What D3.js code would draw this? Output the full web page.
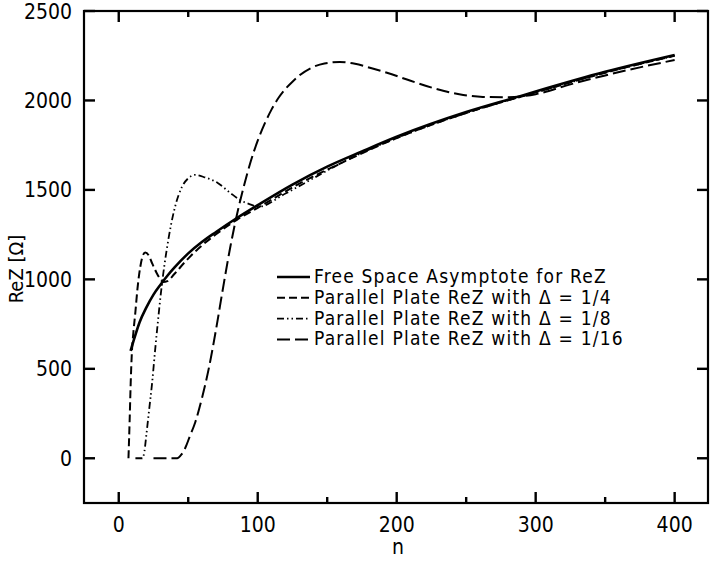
<!DOCTYPE html>
<html>
<head>
<meta charset="utf-8">
<script src="https://cdn.jsdelivr.net/npm/d3@7"></script>
<style>
  body { margin: 0; background: #fff; }
  svg text { font-family: "DejaVu Sans Condensed", "Liberation Sans Narrow", "Liberation Sans", sans-serif; fill: #000; }
</style>
</head>
<body>
<svg id="chart" width="710" height="565"></svg>
<script>
// values: [n, ReZ]
const freeSpace = [
  [8.5, 600], [10, 640], [12, 690], [15, 760], [20, 845], [25, 915], [30, 970],
  [35, 1020], [40, 1065], [50, 1145], [60, 1210], [70, 1265], [85, 1343],
  [100, 1415], [125, 1530], [150, 1630], [175, 1715], [200, 1797], [250, 1935],
  [287, 2020], [300, 2050], [350, 2160], [400, 2254]
];
const plateQuarter = [
  [7, 0], [7.8, 200], [8.6, 420], [9.5, 600], [10.5, 700], [12, 820], [13.5, 950],
  [15.5, 1070], [17, 1125], [19, 1150], [21.5, 1135], [24, 1090], [27, 1040],
  [30, 1000], [32, 985], [35, 990], [40, 1030], [48, 1100], [57, 1170],
  [70, 1252], [85, 1333], [100, 1400], [130, 1535], [160, 1650], [200, 1790],
  [250, 1930], [300, 2045], [350, 2155], [400, 2250]
];
const plateEighth = [
  [12, 0], [17, 0], [18.5, 40], [20, 140], [22, 280], [24, 420], [26, 590],
  [28, 750], [30, 900], [32, 1030], [34.5, 1165], [37.5, 1300], [40.5, 1405],
  [45.5, 1517], [50, 1565], [55, 1584], [62, 1570], [71, 1540], [80, 1485],
  [87, 1445], [95, 1418], [100, 1405], [120, 1480], [140, 1565], [160, 1650],
  [180, 1725], [200, 1790], [250, 1930], [300, 2045], [350, 2155], [400, 2250]
];
const plateSixteenth = [
  [25, 0], [42, 0], [45, 20], [48, 60], [51, 120], [55, 200], [60, 340],
  [65, 510], [70, 720], [75, 950], [80, 1170], [85, 1360], [90, 1520],
  [95, 1660], [100, 1775], [105, 1870], [110, 1950], [115, 2015], [120, 2065],
  [125, 2105], [130, 2140], [138, 2180], [148, 2207], [159, 2215], [170, 2205],
  [182, 2180], [193, 2155], [210, 2110], [226, 2070], [245, 2035], [262, 2020],
  [280, 2018], [300, 2035], [325, 2090], [350, 2140], [375, 2185], [400, 2226]
];
const legendLabels = [
  "Free Space Asymptote for ReZ",
  "Parallel Plate ReZ with \u0394 = 1/4",
  "Parallel Plate ReZ with \u0394 = 1/8",
  "Parallel Plate ReZ with \u0394 = 1/16"
];
const xTicks = [0, 100, 200, 300, 400];
const xMinorTicks = [50, 150, 250, 350];
const yTicks = [0, 500, 1000, 1500, 2000, 2500];

const series = [
  { data: freeSpace, dash: null, width: 2.6 },
  { data: plateQuarter, dash: "8,4", width: 2 },
  { data: plateEighth, dash: "7,3,1.5,3,1.5,3", width: 1.8 },
  { data: plateSixteenth, dash: "13,5", width: 2 }
];

const margin = { top: 11, right: 2, bottom: 62, left: 84 };
const width = 710, height = 565;
const svg = d3.select("#chart");

const x = d3.scaleLinear().domain([-25, 424]).range([margin.left, width - margin.right]);
const y = d3.scaleLinear().domain([-250, 2500]).range([height - margin.bottom, margin.top]);
const plotLeft = x.range()[0], plotRight = x.range()[1];
const plotBottom = y.range()[0], plotTop = y.range()[1];

const line = d3.line()
  .x((d) => x(d[0]))
  .y((d) => y(d[1]))
  .curve(d3.curveMonotoneX);

series.forEach((s) => {
  svg.append("path")
    .datum(s.data)
    .attr("fill", "none")
    .attr("stroke", "#000")
    .attr("stroke-width", s.width)
    .attr("stroke-dasharray", s.dash)
    .attr("d", line);
});

svg.append("rect")
  .attr("x", plotLeft)
  .attr("y", plotTop)
  .attr("width", plotRight - plotLeft)
  .attr("height", plotBottom - plotTop)
  .attr("fill", "none")
  .attr("stroke", "#000")
  .attr("stroke-width", 2.2);

// ticks point inward on all four sides, drawn as filled bars
const tickLayer = svg.append("g").attr("fill", "#000");
function vTick(px, py, len) {
  tickLayer.append("rect").attr("x", px - 1.2).attr("y", py).attr("width", 2.4).attr("height", len);
}
function hTick(px, py, len) {
  tickLayer.append("rect").attr("x", px).attr("y", py - 1.2).attr("width", len).attr("height", 2.4);
}
xTicks.forEach((d) => {
  vTick(x(d), plotBottom - 11, 11);
  vTick(x(d), plotTop, 11);
});
xMinorTicks.forEach((d) => {
  vTick(x(d), plotBottom - 6, 6);
  vTick(x(d), plotTop, 6);
});
yTicks.forEach((d) => {
  hTick(plotLeft, y(d), 11);
  hTick(plotRight - 11, y(d), 11);
});

svg.append("g").selectAll("text").data(xTicks).join("text")
  .attr("x", (d) => x(d))
  .attr("y", 532)
  .attr("text-anchor", "middle")
  .attr("font-size", 21)
  .text((d) => d);

svg.append("g").selectAll("text").data(yTicks).join("text")
  .attr("x", 72)
  .attr("y", (d) => y(d) + 7.5)
  .attr("text-anchor", "end")
  .attr("font-size", 21)
  .text((d) => d);

svg.append("text")
  .attr("x", (plotLeft + plotRight) / 2 + 2)
  .attr("y", 554)
  .attr("text-anchor", "middle")
  .attr("font-size", 21)
  .text("n");

svg.append("text")
  .attr("transform", `translate(23,${(plotBottom + plotTop) / 2 + 12}) rotate(-90)`)
  .attr("text-anchor", "middle")
  .attr("font-size", 20)
  .text("ReZ [\u03a9]");

// legend
const legend = svg.append("g").attr("transform", "translate(277,277)");
legendLabels.forEach((label, i) => {
  const row = legend.append("g").attr("transform", `translate(0,${i * 20.8})`);
  row.append("line")
    .attr("x1", 0).attr("x2", 33).attr("y1", 0).attr("y2", 0)
    .attr("stroke", "#000")
    .attr("stroke-width", series[i].width)
    .attr("stroke-dasharray", series[i].dash);
  row.append("text")
    .attr("x", 37)
    .attr("y", 6)
    .attr("font-size", 19)
    .attr("letter-spacing", 1.2)
    .text(label);
});
</script>
</body>
</html>
